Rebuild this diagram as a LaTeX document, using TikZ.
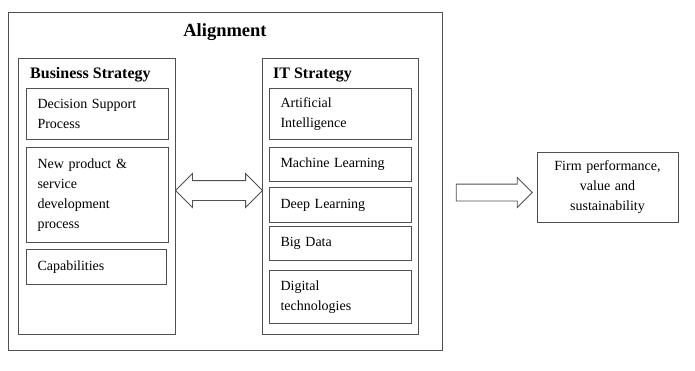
\documentclass[tikz,border=0pt]{standalone}
\usepackage{fontspec}
\setmainfont{Liberation Serif}
\usetikzlibrary{shapes.arrows,calc}
\definecolor{linec}{HTML}{505050}
\tikzset{
  frame/.style={draw=linec, line width=1pt, anchor=north west, inner sep=0pt},
  item/.style={draw=linec, line width=1pt, anchor=north west, inner xsep=11pt, inner ysep=0pt, align=left,
     font=\fontsize{14}{20}\selectfont},
  ttl/.style={font=\fontsize{16}{18}\selectfont\bfseries, inner sep=0pt, anchor=base west},
  bigarrow/.style={draw=linec, line width=0.9pt, fill=white, text height=0pt, text depth=0pt, inner xsep=0pt}
}
\begin{document}
\begin{tikzpicture}[x=1pt,y=-1pt]
\useasboundingbox (0,0) rectangle (695,370);
% outer alignment frame
\node[frame, minimum width=434pt, minimum height=338pt] (outer) at (8,12) {};
\node[font=\fontsize{18.5}{20}\selectfont\bfseries, inner sep=0pt, anchor=base] (align) at (225,36) {Alignment};
% business strategy
\node[frame, minimum width=157pt, minimum height=276pt] (bs) at (18,58) {};
\node[ttl] (bst) at (30,78) {Business Strategy};
\node[item, minimum width=142pt, minimum height=51pt, text width=120pt] (ds) at (26,88) {Decision Support\\Process};
\node[item, minimum width=142pt, minimum height=95pt, text width=120pt] (np) at (26,147) {New product \&\\service\\development\\process};
\node[item, minimum width=140pt, minimum height=35pt, text width=118pt] (cap) at (26,249) {Capabilities};
% IT strategy
\node[frame, minimum width=156pt, minimum height=276pt] (it) at (262,58) {};
\node[ttl] (itt) at (273,78) {IT Strategy};
\node[item, minimum width=142pt, minimum height=51pt, text width=120pt] (ai) at (269,88) {Artificial\\Intelligence};
\node[item, minimum width=142pt, minimum height=34pt, text width=120pt] (ml) at (269,147) {Machine Learning};
\node[item, minimum width=142pt, minimum height=35pt, text width=120pt] (dl) at (269,187) {Deep Learning};
\node[item, minimum width=142pt, minimum height=34pt, text width=120pt] (bd) at (269,226) {Big Data};
\node[item, minimum width=142pt, minimum height=53pt, text width=120pt] (dt) at (269,270) {Digital\\technologies};
% firm performance
\node[draw=linec, line width=1pt, minimum width=141pt, minimum height=70pt, text width=130pt, inner sep=0pt,
      align=center, font=\fontsize{14}{20}\selectfont] (firm) at (607.5,187) {Firm performance,\\value and\\sustainability};
% arrows
\node[bigarrow, double arrow, double arrow head extend=7pt, minimum height=87pt, minimum width=33pt, inner ysep=9.5pt]
   (dbl) at ($(bs.east |- 0,190.5)!0.5!(it.west |- 0,190.5)$) {};
\coordinate (arrstart) at (452,192.5);
\node[bigarrow, single arrow, single arrow head extend=6.5pt, minimum height=76pt, minimum width=29pt, inner ysep=8pt]
   (sgl) at ($(arrstart)+(38,0)$) {};
\end{tikzpicture}
\end{document}
